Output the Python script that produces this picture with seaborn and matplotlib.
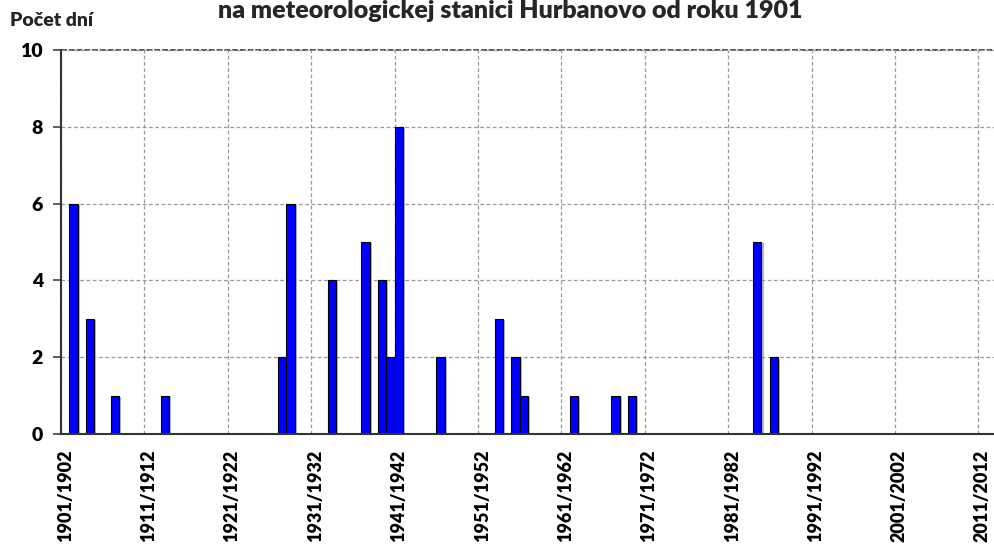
import matplotlib
matplotlib.use("Agg")
import matplotlib.pyplot as plt
import matplotlib.patheffects as pe
import seaborn as sns
import pandas as pd
import numpy as np

# Winters 1901/1902 .. 2012/2013
start_years = list(range(1901, 2013))
winters = [f"{y}/{y+1}" for y in start_years]

# Non-zero counts (number of days)
event_winters = ["1902/1903", "1904/1905", "1907/1908", "1913/1914", "1927/1928",
                 "1928/1929", "1933/1934", "1937/1938", "1939/1940", "1940/1941",
                 "1941/1942", "1946/1947", "1953/1954", "1955/1956", "1956/1957",
                 "1962/1963", "1967/1968", "1969/1970", "1984/1985", "1986/1987"]
event_days = [6, 3, 1, 1, 2, 6, 4, 5, 4, 2, 8, 2, 3, 2, 1, 1, 1, 1, 5, 2]

title = "na meteorologickej stanici Hurbanovo od roku 1901"
ylabel = "Počet dní"
yticks = [0, 2, 4, 6, 8, 10]

days_map = dict(zip(event_winters, event_days))
df = pd.DataFrame({"winter": winters,
                   "days": [days_map.get(w, 0) for w in winters]})

sns.set_theme(style="white")
plt.rcParams['font.family'] = ['Lato', 'DejaVu Sans']

fig = plt.figure(figsize=(9.95, 5.48), dpi=100)
ax = fig.add_axes([61/995, 114/548, 934/995, 384/548])

sns.barplot(data=df, x="winter", y="days", order=winters, color="#0000FF",
            saturation=1, width=1.0, edgecolor="black", linewidth=0.8, ax=ax)
for p in ax.patches:
    if p.get_height() > 0:
        p.set_path_effects([pe.SimplePatchShadow(offset=(1.5, -1.0), shadow_rgbFace="#888888", alpha=0.6),
                            pe.Normal()])
    else:
        p.set_visible(False)

n = len(winters)
ax.set_xlim(-0.5, n - 0.5)
ax.set_ylim(0, 10)

# labels at category centres every 10 winters, ticks at boundaries
lab_idx = list(range(0, n, 10))
ax.set_xticks(lab_idx)
ax.set_xticklabels([winters[i] for i in lab_idx], rotation=90, fontsize=13,
                   fontweight="heavy", color="black")
ax.set_xticks([i - 0.5 for i in lab_idx], minor=True)
ax.tick_params(axis="x", which="major", length=0, pad=11)
ax.tick_params(axis="x", which="minor", length=6, width=1.2, color="#444444",
               direction="inout")
ax.set_yticks(yticks)
ax.set_yticklabels([str(v) for v in yticks], fontsize=14, fontweight="heavy", color="black")
ax.tick_params(axis="y", which="major", length=6, width=1.2, color="#444444", left=True, pad=7)

ax.set_axisbelow(True)
ax.grid(axis="y", which="major", linestyle=(0, (3, 2)), color="#9a9a9a", linewidth=0.9)
ax.grid(axis="x", which="minor", linestyle=(0, (3, 2)), color="#9a9a9a", linewidth=0.9)
ax.grid(axis="x", which="major", visible=False)
ax.axhline(10, color="#555555", linestyle=(0, (3, 1)), linewidth=1.4, clip_on=False, zorder=0.5)

for s in ["top", "right"]:
    ax.spines[s].set_visible(False)
for s in ["left", "bottom"]:
    ax.spines[s].set_color("#333333")
    ax.spines[s].set_linewidth(1.5)

ax.set_xlabel("")
ax.set_ylabel("")

fig.text(10/995, 1 - 21/548, ylabel, fontsize=14, fontweight="heavy", ha="left", va="center")
fig.text(510/995, 1 - 11/548, title, fontsize=18, fontweight="heavy", ha="center", va="center")

fig.savefig("out.png", dpi=100)
